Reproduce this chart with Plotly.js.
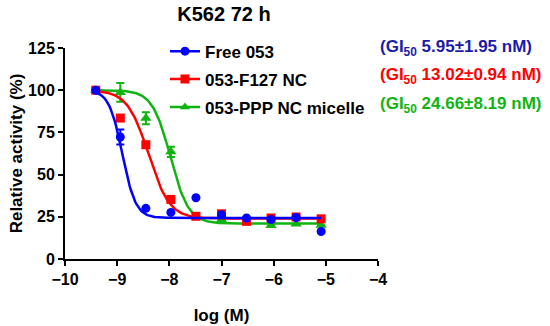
<!DOCTYPE html>
<html>
<head>
<meta charset="utf-8">
<script src="https://cdn.plot.ly/plotly-3.0.1.min.js"></script>
<style>html,body{margin:0;padding:0;background:#fff;}#chart{width:550px;height:326px;}</style>
</head>
<body>
<div id="chart"></div>
<script>
// log concentration (M)
const logConc = [-9.41, -8.94, -8.45, -7.97, -7.49, -7.00, -6.52, -6.05, -5.57, -5.09];
// Relative activity (%)
const free053 = [100, 72.3, 30.0, 27.6, 36.3, 26.2, 24.3, 23.4, 24.6, 16.3];
const free053Err = [0, 4.4, 0, 0, 0, 0, 0, 0, 0, 0];
const f127 = [100, 83.5, 67.7, 35.3, 25.3, 26.8, 22.3, 24.3, 24.9, 23.8];
const f127Err = [0, 0, 0, 0, 0, 0, 0, 0, 0, 0];
const ppp = [100, 98.7, 83.4, 63.5, 25.0, 23.3, 21.7, 19.8, 20.8, 20.0];
const pppErr = [0, 5.5, 3.5, 3.0, 0, 0, 0, 0, 0, 0];
// four-parameter logistic fits: [top, bottom, logEC50, hill]
const fitFree = [100, 24.3, -8.90, 3.4];
const fitF127 = [100, 24.0, -8.40, 2.15];
const fitPPP = [100, 21.0, -7.98, 2.5];
const seriesNames = ["Free 053", "053-F127 NC", "053-PPP NC micelle"];
const giLabels = ["(GI<sub>50</sub> 5.95±1.95 nM)", "(GI<sub>50</sub> 13.02±0.94 nM)", "(GI<sub>50</sub> 24.66±8.19 nM)"];

const FONT = "Liberation Sans, Arial, Helvetica, sans-serif";
const colors = ["#0000ff", "#ff0000", "#10b410"];
const textColors = ["#1c1caa", "#ff0000", "#10b410"];
const symbols = ["circle", "square", "triangle-up"];
const legendIds = ["legend", "legend2", "legend3"];
const legendY = [0.983, 0.851, 0.718];

function fitCurve(p) {
  const xs = [], ys = [];
  const x0 = logConc[0], x1 = logConc[logConc.length - 1];
  const n = 200;
  for (let i = 0; i <= n; i++) {
    const x = x0 + (x1 - x0) * i / n;
    xs.push(x);
    ys.push(p[1] + (p[0] - p[1]) / (1 + Math.pow(10, (x - p[2]) * p[3])));
  }
  return {xs, ys};
}

const series = [
  {y: free053, err: free053Err, fit: fitFree},
  {y: f127, err: f127Err, fit: fitF127},
  {y: ppp, err: pppErr, fit: fitPPP}
];

const traces = [];
// draw order: green, red, blue (blue on top)
[2, 1, 0].forEach(i => {
  const s = series[i];
  const c = fitCurve(s.fit);
  traces.push({x: c.xs, y: c.ys, mode: "lines", line: {color: colors[i], width: 2.5}, showlegend: false, hoverinfo: "skip"});
  traces.push({x: logConc, y: s.y, mode: "markers", showlegend: false,
    marker: {color: colors[i], symbol: symbols[i], size: i === 2 ? 10 : 9},
    error_y: {type: "data", array: s.err, visible: true, color: colors[i], thickness: 2, width: 4}});
});
[0, 1, 2].forEach(i => {
  traces.push({x: [null], y: [null], mode: "lines+markers", name: seriesNames[i], legend: legendIds[i],
    line: {color: colors[i], width: 2.5}, marker: {color: colors[i], symbol: symbols[i], size: 9}});
});

const annotations = giLabels.map((t, i) => ({
  text: "<b>" + t + "</b>", xref: "paper", yref: "paper", x: 1.0, y: [0.998, 0.865, 0.732][i],
  xanchor: "left", yanchor: "middle", showarrow: false,
  font: {family: FONT, size: 17, color: textColors[i]}
}));

const layout = {
  width: 550, height: 326,
  margin: {l: 65, r: 172, t: 48, b: 67},
  paper_bgcolor: "#fff", plot_bgcolor: "#fff",
  font: {family: FONT, color: "#000"},
  title: {text: "<b>K562 72 h</b>", x: 224 / 550, xanchor: "center", xref: "container", y: 1 - 14 / 326, yref: "container", yanchor: "middle", font: {family: FONT, size: 20, color: "#000"}},
  xaxis: {range: [-10, -4], dtick: 1, tick0: -10, showgrid: false, zeroline: false,
    showline: true, linecolor: "#000", linewidth: 2, ticks: "outside", ticklen: 5, tickwidth: 2, tickcolor: "#000",
    tickfont: {family: FONT, size: 16, weight: "bold", color: "#000"},
    title: {text: "<b>log (M)</b>", font: {family: FONT, size: 17, color: "#000"}, standoff: 22}},
  yaxis: {range: [0, 125], dtick: 25, tick0: 0, showgrid: false, zeroline: false,
    showline: true, linecolor: "#000", linewidth: 2, ticks: "outside", ticklen: 5, tickwidth: 2, tickcolor: "#000",
    tickfont: {family: FONT, size: 16, weight: "bold", color: "#000"},
    title: {text: "<b>Relative activity (%)</b>", font: {family: FONT, size: 17, color: "#000"}, standoff: 1}},
  annotations: annotations,
  showlegend: true
};
legendIds.forEach((id, i) => {
  layout[id] = {x: 0.3195, xanchor: "left", y: legendY[i], yanchor: "middle", bgcolor: "rgba(0,0,0,0)",
    font: {family: FONT, size: 17, weight: "bold", color: "#000"}};
});

Plotly.newPlot("chart", traces, layout, {staticPlot: true, displayModeBar: false});
</script>
</body>
</html>
